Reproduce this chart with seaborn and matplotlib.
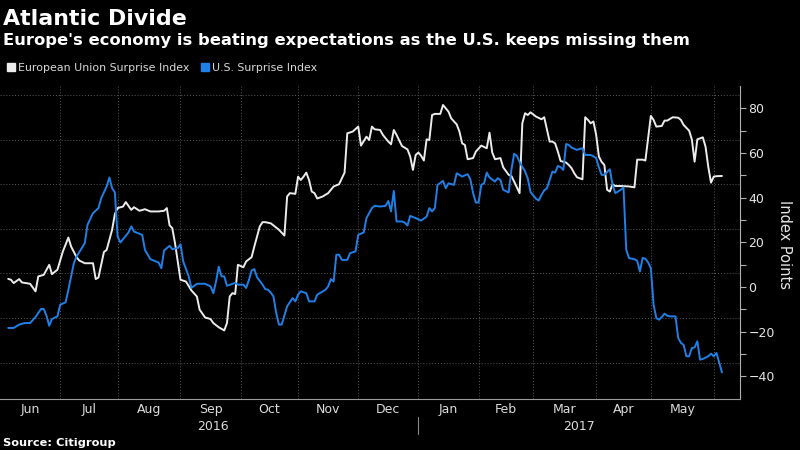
import numpy as np
import pandas as pd
import matplotlib
matplotlib.use("Agg")
import matplotlib.pyplot as plt
from matplotlib.lines import Line2D
import seaborn as sns

# Citi economic surprise indices (trading days)
eu_dates = [
    "2016-06-06", "2016-06-07", "2016-06-08", "2016-06-10", "2016-06-13", "2016-06-16",
    "2016-06-20", "2016-06-21", "2016-06-23", "2016-06-27", "2016-06-28", "2016-06-30",
    "2016-07-04", "2016-07-06", "2016-07-07", "2016-07-11", "2016-07-12", "2016-07-14",
    "2016-07-19", "2016-07-20", "2016-07-21", "2016-07-25", "2016-07-26", "2016-07-28",
    "2016-07-29", "2016-08-01", "2016-08-03", "2016-08-04", "2016-08-08", "2016-08-09",
    "2016-08-11", "2016-08-15", "2016-08-17", "2016-08-22", "2016-08-24", "2016-08-25",
    "2016-08-26", "2016-08-29", "2016-08-30", "2016-09-01", "2016-09-05", "2016-09-07",
    "2016-09-09", "2016-09-12", "2016-09-14", "2016-09-16", "2016-09-19", "2016-09-21",
    "2016-09-23", "2016-09-26", "2016-09-27", "2016-09-28", "2016-09-29", "2016-09-30",
    "2016-10-04", "2016-10-05", "2016-10-07", "2016-10-10", "2016-10-12", "2016-10-13",
    "2016-10-14", "2016-10-18", "2016-10-21", "2016-10-25", "2016-10-26", "2016-10-27",
    "2016-10-31", "2016-11-01", "2016-11-02", "2016-11-03", "2016-11-04", "2016-11-07",
    "2016-11-08", "2016-11-09", "2016-11-10", "2016-11-14", "2016-11-16", "2016-11-18",
    "2016-11-22", "2016-11-24", "2016-11-25", "2016-11-29", "2016-12-01", "2016-12-02",
    "2016-12-06", "2016-12-07", "2016-12-08", "2016-12-09", "2016-12-13", "2016-12-14",
    "2016-12-16", "2016-12-19", "2016-12-20", "2016-12-21", "2016-12-23", "2016-12-27",
    "2016-12-28", "2016-12-29", "2016-12-30", "2017-01-02", "2017-01-03", "2017-01-04",
    "2017-01-05", "2017-01-06", "2017-01-09", "2017-01-10", "2017-01-12", "2017-01-13",
    "2017-01-17", "2017-01-18", "2017-01-20", "2017-01-23", "2017-01-24", "2017-01-25",
    "2017-01-26", "2017-01-30", "2017-01-31", "2017-02-02", "2017-02-06", "2017-02-07",
    "2017-02-08", "2017-02-09", "2017-02-13", "2017-02-14", "2017-02-16", "2017-02-17",
    "2017-02-20", "2017-02-22", "2017-02-23", "2017-02-24", "2017-02-27", "2017-02-28",
    "2017-03-02", "2017-03-06", "2017-03-07", "2017-03-09", "2017-03-10", "2017-03-13",
    "2017-03-14", "2017-03-15", "2017-03-17", "2017-03-20", "2017-03-21", "2017-03-22",
    "2017-03-23", "2017-03-27", "2017-03-28", "2017-03-29", "2017-03-30", "2017-03-31",
    "2017-04-03", "2017-04-04", "2017-04-05", "2017-04-06", "2017-04-07", "2017-04-10",
    "2017-04-11", "2017-04-12", "2017-04-14", "2017-04-19", "2017-04-21", "2017-04-24",
    "2017-04-26", "2017-04-27", "2017-04-28", "2017-05-01", "2017-05-02", "2017-05-03",
    "2017-05-05", "2017-05-08", "2017-05-09", "2017-05-11", "2017-05-15", "2017-05-16",
    "2017-05-17", "2017-05-19", "2017-05-22", "2017-05-23", "2017-05-24", "2017-05-26",
    "2017-05-29", "2017-05-30", "2017-05-31", "2017-06-01", "2017-06-02", "2017-06-06",
]
eu_values = [
    3.6, 3.2, 1.7, 3.5, 2.0, 1.4,
    -2.0, 4.7, 5.4, 9.9, 5.7, 7.7,
    15.9, 22.1, 18.1, 13.3, 11.8, 10.6,
    10.6, 3.5, 4.2, 15.6, 16.6, 25.6,
    32.6, 35.3, 36.0, 38.0, 34.5, 35.7,
    34.1, 34.8, 33.8, 33.8, 34.1, 35.3,
    27.6, 26.3, 19.6, 3.2, 2.4, -1.6,
    -4.3, -10.2, -13.7, -14.4, -16.2, -18.1,
    -19.5, -16.2, -4.3, -2.8, -3.2, 9.9,
    8.8, 11.4, 13.3, 18.1, 27.1, 29.0,
    29.0, 28.5, 25.6, 23.0, 40.5, 42.0,
    41.7, 49.4, 47.9, 49.4, 51.2, 47.9,
    42.7, 42.0, 39.6, 40.5, 42.0, 45.0,
    46.0, 51.2, 68.8, 69.6, 71.8, 63.3,
    67.3, 65.8, 71.8, 70.6, 70.3, 68.1,
    65.1, 63.9, 70.3, 68.1, 63.1, 61.6,
    58.4, 52.4, 59.1, 60.2, 58.7, 56.6,
    66.1, 65.8, 77.0, 77.5, 77.5, 81.5,
    78.5, 75.5, 72.8, 69.6, 64.3, 63.6,
    57.2, 57.7, 60.6, 63.3, 62.1, 69.1,
    60.2, 57.2, 57.7, 53.6, 50.2, 49.7,
    47.2, 42.0, 73.3, 77.8, 77.0, 78.2,
    76.3, 75.1, 76.0, 65.1, 65.1, 64.3,
    60.6, 56.4, 55.7, 54.6, 53.2, 50.9,
    49.1, 48.2, 76.0, 74.8, 73.3, 74.1,
    68.1, 58.4, 56.0, 54.6, 43.5, 42.7,
    46.0, 45.2, 45.2, 45.0, 44.6, 57.0,
    57.0, 56.6, 66.6, 76.6, 74.8, 71.8,
    72.1, 74.5, 74.5, 76.0, 75.8, 74.8,
    72.5, 70.0, 66.0, 56.1, 66.1, 67.0,
    62.8, 53.8, 46.7, 49.4, 49.6, 49.7,
]

us_dates = [
    "2016-06-06", "2016-06-08", "2016-06-10", "2016-06-14", "2016-06-16", "2016-06-20",
    "2016-06-22", "2016-06-23", "2016-06-24", "2016-06-27", "2016-06-28", "2016-06-30",
    "2016-07-01", "2016-07-05", "2016-07-06", "2016-07-07", "2016-07-08", "2016-07-11",
    "2016-07-14", "2016-07-15", "2016-07-19", "2016-07-21", "2016-07-22", "2016-07-26",
    "2016-07-27", "2016-07-28", "2016-07-29", "2016-08-01", "2016-08-02", "2016-08-04",
    "2016-08-05", "2016-08-08", "2016-08-09", "2016-08-12", "2016-08-15", "2016-08-17",
    "2016-08-22", "2016-08-23", "2016-08-24", "2016-08-26", "2016-08-29", "2016-08-31",
    "2016-09-01", "2016-09-02", "2016-09-06", "2016-09-07", "2016-09-09", "2016-09-14",
    "2016-09-16", "2016-09-19", "2016-09-20", "2016-09-21", "2016-09-22", "2016-09-23",
    "2016-09-26", "2016-09-28", "2016-09-29", "2016-09-30", "2016-10-04", "2016-10-05",
    "2016-10-06", "2016-10-07", "2016-10-10", "2016-10-11", "2016-10-13", "2016-10-14",
    "2016-10-17", "2016-10-18", "2016-10-19", "2016-10-20", "2016-10-21", "2016-10-24",
    "2016-10-26", "2016-10-28", "2016-10-31", "2016-11-01", "2016-11-02", "2016-11-04",
    "2016-11-07", "2016-11-09", "2016-11-10", "2016-11-15", "2016-11-16", "2016-11-17",
    "2016-11-18", "2016-11-21", "2016-11-22", "2016-11-23", "2016-11-25", "2016-11-28",
    "2016-11-30", "2016-12-01", "2016-12-05", "2016-12-06", "2016-12-08", "2016-12-09",
    "2016-12-13", "2016-12-15", "2016-12-16", "2016-12-19", "2016-12-20", "2016-12-21",
    "2016-12-23", "2016-12-26", "2016-12-27", "2016-12-28", "2016-12-30", "2017-01-03",
    "2017-01-05", "2017-01-06", "2017-01-09", "2017-01-10", "2017-01-11", "2017-01-13",
    "2017-01-16", "2017-01-17", "2017-01-19", "2017-01-20", "2017-01-23", "2017-01-24",
    "2017-01-26", "2017-01-27", "2017-01-30", "2017-01-31", "2017-02-01", "2017-02-02",
    "2017-02-03", "2017-02-06", "2017-02-07", "2017-02-09", "2017-02-10", "2017-02-13",
    "2017-02-14", "2017-02-16", "2017-02-17", "2017-02-20", "2017-02-21", "2017-02-22",
    "2017-02-23", "2017-02-24", "2017-02-27", "2017-02-28", "2017-03-02", "2017-03-03",
    "2017-03-06", "2017-03-07", "2017-03-08", "2017-03-09", "2017-03-10", "2017-03-13",
    "2017-03-14", "2017-03-15", "2017-03-16", "2017-03-17", "2017-03-20", "2017-03-21",
    "2017-03-23", "2017-03-24", "2017-03-27", "2017-03-28", "2017-03-30", "2017-03-31",
    "2017-04-03", "2017-04-04", "2017-04-05", "2017-04-06", "2017-04-07", "2017-04-10",
    "2017-04-11", "2017-04-12", "2017-04-13", "2017-04-14", "2017-04-17", "2017-04-18",
    "2017-04-19", "2017-04-21", "2017-04-24", "2017-04-25", "2017-04-26", "2017-04-27",
    "2017-04-28", "2017-05-01", "2017-05-02", "2017-05-03", "2017-05-04", "2017-05-05",
    "2017-05-08", "2017-05-09", "2017-05-10", "2017-05-12", "2017-05-15", "2017-05-16",
    "2017-05-17", "2017-05-18", "2017-05-19", "2017-05-22", "2017-05-23", "2017-05-24",
    "2017-05-25", "2017-05-26", "2017-05-30", "2017-05-31", "2017-06-01", "2017-06-02",
    "2017-06-05", "2017-06-06",
]
us_values = [
    -18.4, -18.4, -16.9, -16.2, -16.2, -13.5,
    -9.9, -9.9, -12.9, -17.4, -14.4, -13.2,
    -8.0, -6.9, -1.3, 4.7, 10.6, 13.6,
    19.6, 27.8, 33.0, 35.3, 39.7, 45.0,
    49.0, 44.2, 42.4, 22.6, 19.9, 22.9,
    24.4, 27.1, 24.8, 23.3, 16.6, 12.4,
    10.9, 8.4, 16.3, 18.4, 16.9, 17.4,
    19.1, 11.4, 4.7, -0.5, 1.4, 1.4,
    0.2, -2.8, 2.4, 9.1, 4.7, 4.7,
    0.5, 1.4, 1.8, 1.0, 1.0, -0.5,
    3.0, 7.3, 8.0, 4.3, 1.0, -1.0,
    -1.3, -2.5, -4.3, -11.7, -16.9, -16.9,
    -8.7, -5.0, -6.5, -3.5, -2.0, -2.8,
    -6.5, -6.5, -3.5, -1.3, 0.2, 3.5,
    2.4, 14.4, 14.4, 12.1, 12.1, 15.1,
    15.9, 23.3, 24.4, 30.8, 35.3, 36.3,
    36.0, 36.3, 38.5, 33.8, 43.0, 29.3,
    29.3, 28.8, 27.5, 31.8, 30.8, 29.7,
    31.5, 35.3, 33.8, 35.3, 45.7, 47.5,
    44.2, 46.4, 45.7, 50.9, 50.2, 49.4,
    50.5, 48.2, 42.0, 37.8, 37.8, 45.7,
    46.4, 51.2, 49.0, 47.2, 48.7, 47.9,
    43.5, 42.3, 52.4, 59.6, 58.7, 56.0,
    53.7, 51.8, 48.5, 42.5, 39.5, 38.7,
    41.2, 43.2, 44.2, 47.9, 51.6, 51.2,
    54.2, 53.6, 52.4, 64.0, 63.6, 62.4,
    61.4, 61.8, 62.1, 59.1, 59.1, 58.5,
    57.7, 53.6, 50.2, 50.2, 51.5, 52.7,
    45.7, 42.0, 42.7, 43.5, 44.6, 16.6,
    12.9, 12.4, 11.7, 6.9, 13.0, 12.6,
    11.0, 8.4, -8.0, -14.0, -14.7, -13.5,
    -12.0, -12.9, -13.2, -13.2, -22.9, -25.1,
    -26.0, -31.1, -31.1, -27.4, -27.1, -24.4,
    -32.6, -32.3, -31.1, -29.9, -31.1, -29.6,
    -34.0, -38.3,
]

series_names = ["European Union Surprise Index", "U.S. Surprise Index"]
series_colors = ["#ececec", "#1f80e8"]

month_starts = ["2016-06-01", "2016-07-01", "2016-08-01", "2016-09-01", "2016-10-01",
                "2016-11-01", "2016-12-01", "2017-01-01", "2017-02-01", "2017-03-01",
                "2017-04-01", "2017-05-01", "2017-06-01"]
month_labels = ["Jun", "Jul", "Aug", "Sep", "Oct", "Nov", "Dec",
                "Jan", "Feb", "Mar", "Apr", "May"]
year_labels = ["2016", "2017"]
year_break = "2017-01-01"

ORIGIN = "2016-07-01"


def trading_day(dates):
    # x axis runs on weekdays only, like the terminal chart
    return np.busday_count(ORIGIN, np.array(dates, dtype="datetime64[D]"))


df = pd.concat([
    pd.DataFrame({"day": trading_day(eu_dates), "value": eu_values, "series": series_names[0]}),
    pd.DataFrame({"day": trading_day(us_dates), "value": us_values, "series": series_names[1]}),
])

sns.set_style("dark", {"axes.facecolor": "black", "figure.facecolor": "black"})
plt.rcParams["font.family"] = ["DejaVu Sans"]

fig = plt.figure(figsize=(8, 4.5), dpi=100)
fig.patch.set_facecolor("black")
ax = fig.add_axes([0, 1 - 398.5 / 450, 740 / 800, 312.5 / 450])
ax.set_facecolor("black")

sns.lineplot(data=df, x="day", y="value", hue="series", hue_order=series_names,
             palette=dict(zip(series_names, series_colors)), linewidth=1.4,
             errorbar=None, legend=False, ax=ax, zorder=3)

x_left = trading_day([eu_dates[0]])[0]
x_right = 248.6
ax.set_xlim(x_left, x_right)
ax.set_ylim(-50, 90)

# grid
month_pos = trading_day(month_starts)
grid_kw = dict(color="#5a5a5a", lw=0.7, ls=(0, (1, 2)), zorder=1)
for p in month_pos:
    if x_left < p < x_right:
        ax.axvline(p, **grid_kw)
for v in np.arange(-34, 90, 20):
    ax.axhline(v, **grid_kw)

# x ticks: boundaries as marks, month names centred in between
ax.set_xticks(month_pos)
ax.set_xticklabels([])
ax.set_xticks((month_pos[:-1] + month_pos[1:]) / 2, minor=True)
ax.set_xticklabels(month_labels, minor=True)
ax.tick_params(axis="x", which="major", length=4, width=0.8, color="#9a9a9a", direction="out")
ax.tick_params(axis="x", which="minor", length=0, pad=3, labelsize=9, labelcolor="#dcdcdc")

xt = ax.get_xaxis_transform()
yb = trading_day([year_break])[0]
ax.text((x_left + yb) / 2, -0.088, year_labels[0], transform=xt, ha="center", va="center",
        fontsize=9, color="#dcdcdc")
ax.text((yb + x_right) / 2, -0.088, year_labels[1], transform=xt, ha="center", va="center",
        fontsize=9, color="#dcdcdc")
ax.plot([yb, yb], [-0.058, -0.112], transform=xt, color="#8a8a8a", lw=0.8, clip_on=False)

# y axis on the right
ax.yaxis.tick_right()
ax.set_yticks(np.arange(-40, 81, 20))
ax.set_yticks(np.arange(-30, 71, 20), minor=True)
ax.tick_params(axis="y", which="both", length=4, width=0.8, color="#b0b0b0", direction="out",
               right=True, left=False)
ax.tick_params(axis="y", which="major", pad=2, labelsize=9, labelcolor="#e6e6e6")
ax.set_xlabel("")
ax.set_ylabel("")

for s in ["left", "top"]:
    ax.spines[s].set_visible(False)
ax.spines["bottom"].set_color("#9a9a9a")
ax.spines["right"].set_color("#b0b0b0")
ax.spines["bottom"].set_linewidth(0.8)
ax.spines["right"].set_linewidth(0.8)

fig.text(785 / 800, 1 - 245 / 450, "Index Points", rotation=270, ha="center", va="center",
         fontsize=10.5, color="#e6e6e6")

# titles
fig.text(3 / 800, 1 - 25 / 450, "Atlantic Divide", fontsize=15.9, weight="bold",
         color="white", va="baseline")
fig.text(3 / 800, 1 - 44.5 / 450,
         "Europe's economy is beating expectations as the U.S. keeps missing them",
         fontsize=11.8, weight="bold", color="white", va="baseline")
fig.text(3 / 800, 1 - 446 / 450, "Source: Citigroup", fontsize=8.2, weight="bold",
         color="white", va="baseline")

handles = [Line2D([], [], ls="none", marker="s", markersize=5.5, color=c) for c in series_colors]
fig.legend(handles, series_names, loc="center left", bbox_to_anchor=(0.0, 1 - 67.7 / 450),
           ncol=2, frameon=False, fontsize=7.9, labelcolor="#d8d8d8", handlelength=0.8,
           handletextpad=0.2, columnspacing=1.1, borderaxespad=0.2)

fig.savefig("out.png", dpi=100, facecolor="black")
